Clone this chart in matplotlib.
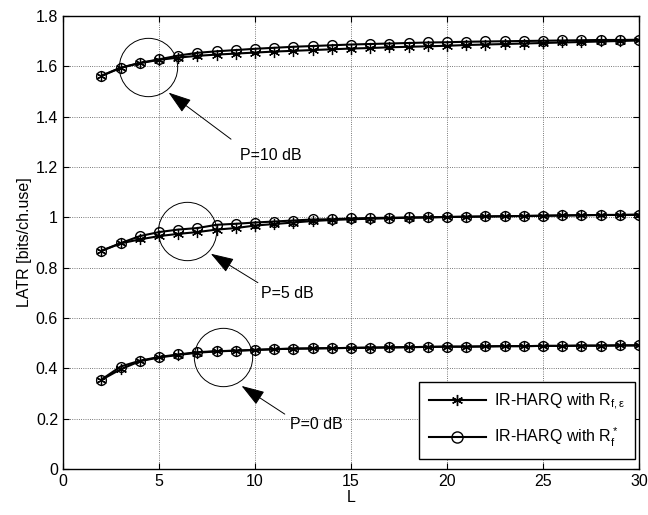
import numpy as np
import matplotlib.pyplot as plt

plt.rcParams['font.family'] = ['Liberation Sans', 'DejaVu Sans']
plt.rcParams['mathtext.fontset'] = 'custom'
plt.rcParams['mathtext.rm'] = 'Liberation Sans'
plt.rcParams['mathtext.it'] = 'Liberation Sans'

L = np.arange(2, 31)

# P = 10 dB
p10_star = [1.561, 1.593, 1.612, 1.625, 1.634, 1.641, 1.646, 1.650, 1.654, 1.658,
            1.661, 1.664, 1.667, 1.670, 1.672, 1.675, 1.677, 1.679, 1.681, 1.684,
            1.686, 1.688, 1.690, 1.692, 1.694, 1.696, 1.698, 1.700, 1.702]
p10_circ = [1.562, 1.594, 1.613, 1.627, 1.642, 1.653, 1.659, 1.664, 1.669, 1.673,
            1.677, 1.680, 1.683, 1.686, 1.688, 1.690, 1.692, 1.694, 1.695, 1.697,
            1.698, 1.699, 1.700, 1.701, 1.702, 1.703, 1.704, 1.704, 1.705]
# P = 5 dB
p5_star = [0.866, 0.896, 0.912, 0.925, 0.934, 0.941, 0.951, 0.957, 0.967, 0.973,
           0.979, 0.985, 0.989, 0.992, 0.994, 0.996, 0.998, 0.999, 1.001, 1.002,
           1.003, 1.004, 1.005, 1.006, 1.007, 1.008, 1.009, 1.009, 1.010]
p5_circ = [0.867, 0.897, 0.925, 0.941, 0.951, 0.957, 0.970, 0.974, 0.979, 0.983,
           0.987, 0.991, 0.992, 0.995, 0.997, 0.998, 0.999, 1.000, 1.001, 1.002,
           1.003, 1.004, 1.005, 1.006, 1.007, 1.008, 1.009, 1.009, 1.010]
# P = 0 dB
p0_star = [0.354, 0.396, 0.428, 0.443, 0.453, 0.462, 0.467, 0.470, 0.473, 0.476,
           0.478, 0.479, 0.480, 0.481, 0.482, 0.483, 0.484, 0.485, 0.486, 0.486,
           0.487, 0.488, 0.488, 0.489, 0.489, 0.490, 0.490, 0.491, 0.491]
p0_circ = [0.355, 0.407, 0.430, 0.445, 0.455, 0.464, 0.468, 0.470, 0.473, 0.476,
           0.478, 0.479, 0.480, 0.481, 0.482, 0.483, 0.484, 0.485, 0.486, 0.486,
           0.487, 0.488, 0.488, 0.489, 0.489, 0.490, 0.490, 0.491, 0.491]

# annotation: label, circle centre, arrow tip, arrow tail, text position
notes = [("P=10 dB", (4.43, 1.596), (5.5, 1.495), (8.75, 1.31), (10.8, 1.246)),
         ("P=5 dB", (6.47, 0.946), (7.7, 0.855), (10.15, 0.74), (11.7, 0.697)),
         ("P=0 dB", (8.34, 0.444), (9.3, 0.330), (11.55, 0.218), (13.2, 0.176))]

star = (6, 2, 0)
fs = 11.5

fig = plt.figure(figsize=(6.48, 5.15), dpi=100)
ax = fig.add_axes([0.0972, 0.0893, 0.889, 0.880])

for ys, yc in [(p10_star, p10_circ), (p5_star, p5_circ), (p0_star, p0_circ)]:
    ax.plot(L, ys, color='k', lw=1.5, marker=star, ms=8, mew=0.9)
    ax.plot(L, yc, color='k', lw=1.5, marker='o', ms=7, mfc='none', mew=1.0)

for txt, c, tip, tail, tpos in notes:
    ax.plot([c[0]], [c[1]], marker='o', ms=42, mfc='none', mec='k', mew=0.7)
    ax.annotate('', xy=tip, xytext=tail,
                arrowprops=dict(arrowstyle='-|>,head_length=0.9,head_width=0.3',
                                color='k', lw=0.7, mutation_scale=16,
                                shrinkA=0, shrinkB=0))
    ax.text(tpos[0], tpos[1], txt, fontsize=fs, ha='center', va='center')

h1, = ax.plot([], [], color='k', lw=1.5, marker=star, ms=8)
h2, = ax.plot([], [], color='k', lw=1.5, marker='o', ms=8, mfc='none')
ax.legend([h1, h2], [r'IR-HARQ with R$_{f,\varepsilon}$', r'IR-HARQ with R$_f^*$'],
          loc='lower right', fontsize=fs, fancybox=False, edgecolor='k',
          framealpha=1, handlelength=3.6, handletextpad=0.5, borderpad=0.6,
          labelspacing=0.9, borderaxespad=0, bbox_to_anchor=(0.993, 0.022))

ax.set_xlim(0, 30)
ax.set_ylim(0, 1.8)
ax.set_xticks(np.arange(0, 31, 5))
ax.set_yticks(np.arange(0, 1.81, 0.2))
ax.set_yticklabels(['0', '0.2', '0.4', '0.6', '0.8', '1', '1.2', '1.4', '1.6', '1.8'])
ax.tick_params(direction='in', top=True, right=True, labelsize=fs, length=4)
ax.grid(True, linestyle=':', color='k', lw=0.6, alpha=0.7)
ax.set_xlabel('L', fontsize=fs, labelpad=1)
ax.set_ylabel('LATR [bits/ch.use]', fontsize=fs, labelpad=3)
for s in ax.spines.values():
    s.set_linewidth(1.0)

fig.savefig('out.png', dpi=100)
